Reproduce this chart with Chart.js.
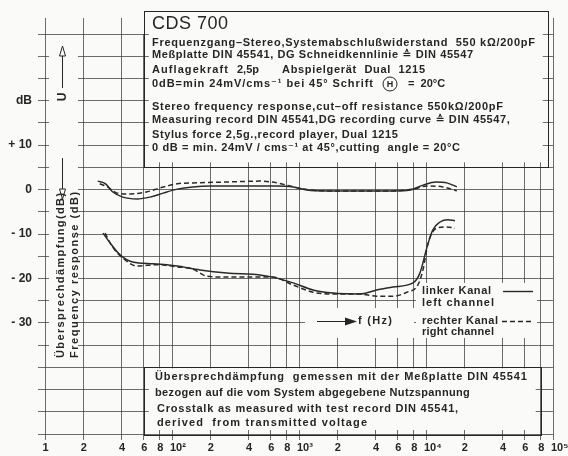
<!DOCTYPE html>
<html>
<head>
<meta charset="utf-8">
<title>CDS 700 Frequenzgang</title>
<script src="https://cdn.jsdelivr.net/npm/chart.js"></script>
<style>
  html, body { margin: 0; padding: 0; background: #fafaf8; }
  #chart { display: block; }
</style>
</head>
<body>
<canvas id="chart" width="568" height="456"></canvas>
<script>
// Frequenzgang, linker Kanal (Hz / dB)
var frLeftHz = [26, 30, 34, 41, 53, 67, 85, 110, 146, 200, 360, 670, 900, 1160, 1670, 3000, 5500, 7500, 9500, 12000, 14600, 17500];
var frLeftDb = [1.9, 1.3, -0.5, -1.7, -2.1, -1.7, -0.8, 0.1, 0.6, 0.8, 0.8, 0.8, 0.6, -0.1, -0.3, -0.3, -0.3, -0.1, 1.0, 1.7, 1.5, 0.6];

// Frequenzgang, rechter Kanal
var frRightHz = [27, 31, 37, 47, 64, 81, 110, 146, 270, 490, 670, 850, 1080, 1670, 3000, 5500, 7900, 10200, 13600, 17500];
var frRightDb = [1.3, 0.6, -0.8, -1.0, -0.5, 0.4, 1.3, 1.5, 1.7, 1.9, 1.5, 0.8, 0.1, -0.3, -0.3, -0.3, 0.1, 0.8, 0.6, -0.3];

// Übersprechdämpfung, linker Kanal
var xtLeftHz = [28.6, 32.5, 39, 49, 71, 110, 166, 270, 490, 620, 900, 1290, 1860, 3000, 4100, 5500, 7900, 8950, 10200, 11300, 12900, 14900, 16900];
var xtLeftDb = [-9.8, -12.0, -14.7, -16.3, -16.7, -17.2, -18.1, -18.8, -19.2, -19.7, -21.0, -22.6, -23.3, -23.5, -22.6, -21.9, -21.0, -18.8, -12.9, -9.1, -7.3, -6.8, -7.0];

// Übersprechdämpfung, rechter Kanal
var xtRightHz = [29.7, 34, 41, 53, 76, 110, 146, 188, 270, 490, 620, 900, 1290, 1860, 3000, 4100, 5500, 7070, 8620, 9460, 10400, 12100, 14600, 16900];
var xtRightDb = [-9.8, -12.9, -15.4, -17.2, -16.9, -17.4, -17.9, -19.5, -19.7, -19.7, -19.7, -21.5, -23.1, -23.5, -23.5, -24.0, -24.0, -23.1, -21.5, -18.1, -12.0, -8.7, -8.4, -8.7];

// Achsteilung
var freqTicks = [10, 20, 40, 60, 80, 100, 200, 400, 600, 800, 1000, 2000, 4000, 6000, 8000, 10000, 20000, 40000, 60000, 80000, 100000];
var freqLabels = ['1', '2', '4', '6', '8', '10²', '2', '4', '6', '8', '10³', '2', '4', '6', '8', '10⁴', '2', '4', '6', '8', '10⁵'];
var levelTicks = [-55, -50, -45, -40, -35, -30, -25, -20, -15, -10, -5, 0, 5, 10, 15, 20, 25, 30, 35];
var levelLabels = ['', '', '', '', '', '- 30', '', '- 20', '', '- 10', '', '0', '', '+ 10', '', 'dB', '', '', ''];

var paper = '#fafaf8';
var ink = '#262626';
var gridColor = 'rgba(60, 60, 60, 0.75)';
var sans = '"Liberation Sans", Arial, "DejaVu Sans", sans-serif';

function points(xs, ys) {
    return xs.map(function (v, i) { return { x: v, y: ys[i] }; });
}

// text brought to a set width: wider by letter spacing, narrower by squeezing
function fitText(ctx, str, x, y, w) {
    var m = ctx.measureText(str).width;
    ctx.save();
    ctx.translate(x, y);
    if (w > m && 'letterSpacing' in ctx) {
        ctx.letterSpacing = ((w - m) / Math.max(str.length - 1, 1)).toFixed(2) + 'px';
    } else {
        ctx.scale(w / m, 1);
    }
    ctx.fillText(str, 0, 0);
    ctx.restore();
}

function line(ctx, x1, y1, x2, y2) {
    ctx.beginPath();
    ctx.moveTo(x1, y1);
    ctx.lineTo(x2, y2);
    ctx.stroke();
}

// white panel over the grid; the grid stays visible for a few px inside the frame
function panel(ctx, l, t, r, b, frame) {
    ctx.fillStyle = paper;
    if (frame) {
        ctx.fillRect(l + 5, t + 1, r - l - 10, b - t - 6);
        ctx.strokeStyle = ink;
        ctx.lineWidth = 1;
        ctx.strokeRect(Math.round(l) + 0.5, Math.round(t) + 0.5, Math.round(r - l), Math.round(b - t));
    } else {
        ctx.fillRect(l, t, r - l, b - t);
    }
}

function arrowHead(ctx, x, tipY, dir) {
    ctx.beginPath();
    ctx.moveTo(x, tipY);
    ctx.lineTo(x - 3, tipY - dir * 10);
    ctx.lineTo(x + 3, tipY - dir * 10);
    ctx.closePath();
    ctx.stroke();
}

var paperPlugin = {
    id: 'paper',
    beforeDraw: function (chart) {
        var ctx = chart.ctx;
        ctx.save();
        ctx.fillStyle = paper;
        ctx.fillRect(0, 0, chart.width, chart.height);
        ctx.restore();
    },
    beforeDatasetsDraw: function (chart) {
        var ctx = chart.ctx, xs = chart.scales.x, ys = chart.scales.y, area = chart.chartArea;
        ctx.save();

        // vertical lines run on above the top edge
        ctx.strokeStyle = gridColor;
        ctx.lineWidth = 1;
        freqTicks.forEach(function (v) {
            var px = Math.round(xs.getPixelForValue(v)) + 0.5;
            line(ctx, px, area.top - 16, px, area.top);
        });

        // frequency labels; the powers of ten start at their line
        ctx.fillStyle = ink;
        ctx.font = 'bold 11px ' + sans;
        ctx.textBaseline = 'middle';
        freqTicks.forEach(function (v, i) {
            var px = xs.getPixelForValue(v);
            var s = freqLabels[i];
            if (s.length > 1) {
                ctx.textAlign = 'left';
                ctx.fillText(s, px - 2, area.bottom + 14);
            } else {
                ctx.textAlign = 'center';
                ctx.fillText(s, px + 0.5, area.bottom + 14);
            }
        });

        // left strip with the axis captions
        panel(ctx, area.left + 4, 40, area.left + 33, 362, false);
        // caption panels
        panel(ctx, xs.getPixelForValue(60), 11, xs.getPixelForValue(91000), ys.getPixelForValue(5), true);
        panel(ctx, xs.getPixelForValue(60), ys.getPixelForValue(-40), xs.getPixelForValue(80000), ys.getPixelForValue(-55) + 1, true);
        panel(ctx, 305, 308, 414, 338, false);
        panel(ctx, 416, 283, 537, 338, false);

        ctx.fillStyle = ink;
        ctx.strokeStyle = ink;
        ctx.textBaseline = 'middle';
        ctx.textAlign = 'left';

        // header block
        ctx.font = '18px ' + sans;
        fitText(ctx, 'CDS 700', 152, 24, 76);
        ctx.font = 'bold 11px ' + sans;
        fitText(ctx, 'Frequenzgang\u2013Stereo,Systemabschlußwiderstand  550 kΩ/200pF', 152, 43, 383);
        fitText(ctx, 'Meßplatte DIN 45541, DG Schneidkennlinie ≙ DIN 45547', 152, 55, 321);
        fitText(ctx, 'Auflagekraft', 152, 70, 76);
        ctx.fillText('2,5p', 237, 70);
        fitText(ctx, 'Abspielgerät  Dual  1215', 282, 70, 143);
        fitText(ctx, '0dB=min 24mV/cms⁻¹ bei 45° Schrift', 152, 84, 221);
        ctx.lineWidth = 1;
        ctx.beginPath();
        ctx.arc(390, 84, 7, 0, Math.PI * 2);
        ctx.stroke();
        ctx.textAlign = 'center';
        ctx.font = 'bold 9px ' + sans;
        ctx.fillText('H', 390, 84.5);
        ctx.textAlign = 'left';
        ctx.font = 'bold 11px ' + sans;
        ctx.fillText('=  20°C', 408, 84);
        fitText(ctx, 'Stereo frequency response,cut\u2013off resistance 550kΩ/200pF', 152, 107, 351);
        fitText(ctx, 'Measuring record DIN 45541,DG recording curve ≙ DIN 45547,', 152, 120, 358);
        fitText(ctx, 'Stylus force 2,5g.,record player, Dual 1215', 152, 135, 246);
        fitText(ctx, '0 dB = min. 24mV / cms⁻¹ at 45°,cutting  angle = 20°C', 152, 148, 308);

        // crosstalk note
        fitText(ctx, 'Übersprechdämpfung  gemessen mit der Meßplatte DIN 45541', 155, 377, 372);
        fitText(ctx, 'bezogen auf die vom System abgegebene Nutzspannung', 155, 393, 315);
        fitText(ctx, 'Crosstalk as measured with test record DIN 45541,', 157, 409, 301);
        fitText(ctx, 'derived  from transmitted voltage', 157, 423, 210);

        // legend
        fitText(ctx, 'linker Kanal', 422, 291, 69);
        fitText(ctx, 'left channel', 422, 303, 72);
        fitText(ctx, 'rechter Kanal', 422, 321, 76);
        fitText(ctx, 'right channel', 422, 332, 72);
        ctx.lineWidth = 1.4;
        line(ctx, 503, 291.5, 533, 291.5);
        ctx.setLineDash([5, 3]);
        line(ctx, 502, 321.5, 532, 321.5);
        ctx.setLineDash([]);

        // frequency arrow
        ctx.lineWidth = 1;
        line(ctx, 317, 321.5, 347, 321.5);
        ctx.beginPath();
        ctx.moveTo(357, 321.5);
        ctx.lineTo(345, 317.5);
        ctx.lineTo(345, 325.5);
        ctx.closePath();
        ctx.fill();
        fitText(ctx, 'f (Hz)', 358, 321, 34);

        // level arrows and rotated captions
        var ax = 62.5;
        line(ctx, ax, 56, ax, 88);
        arrowHead(ctx, ax, 46, -1);
        line(ctx, ax, 158, ax, 189);
        arrowHead(ctx, ax, 199, 1);
        ctx.save();
        ctx.translate(ax, 97);
        ctx.rotate(-Math.PI / 2);
        ctx.textAlign = 'center';
        ctx.font = 'bold 12px ' + sans;
        ctx.fillText('U', 0, 0);
        ctx.restore();

        ctx.font = 'bold 11px ' + sans;
        ctx.save();
        ctx.translate(61, 358);
        ctx.rotate(-Math.PI / 2);
        fitText(ctx, 'Übersprechdämpfung(dB)', 0, 0, 165);
        ctx.restore();
        ctx.save();
        ctx.translate(75, 358);
        ctx.rotate(-Math.PI / 2);
        fitText(ctx, 'Frequency response (dB)', 0, 0, 166);
        ctx.restore();

        ctx.restore();
    }
};

function series(xs, ys, dashed) {
    return {
        data: points(xs, ys),
        showLine: true,
        borderColor: '#2a2a2a',
        borderWidth: 1.5,
        borderDash: dashed ? [5, 3] : [],
        pointRadius: 0,
        cubicInterpolationMode: 'monotone'
    };
}

var ctx = document.getElementById('chart').getContext('2d');
new Chart(ctx, {
    type: 'scatter',
    data: {
        datasets: [
            series(frLeftHz, frLeftDb, false),
            series(frRightHz, frRightDb, true),
            series(xtLeftHz, xtLeftDb, false),
            series(xtRightHz, xtRightDb, true)
        ]
    },
    options: {
        responsive: false,
        animation: false,
        layout: { padding: { top: 34, right: 15, left: 0, bottom: 0 } },
        plugins: {
            legend: { display: false },
            tooltip: { enabled: false }
        },
        scales: {
            x: {
                type: 'logarithmic',
                min: 10,
                max: 100000,
                afterBuildTicks: function (axis) {
                    axis.ticks = freqTicks.map(function (v) { return { value: v }; });
                },
                afterFit: function (axis) { axis.height = 22; },
                ticks: { display: false, autoSkip: false },
                grid: { color: gridColor, lineWidth: 1, tickLength: 6, tickColor: gridColor },
                border: { display: false }
            },
            y: {
                min: -55,
                max: 35,
                afterBuildTicks: function (axis) {
                    axis.ticks = levelTicks.map(function (v) { return { value: v }; });
                },
                afterFit: function (axis) { axis.width = 45; },
                ticks: {
                    autoSkip: false,
                    padding: 6,
                    color: ink,
                    font: { family: sans, size: 12, weight: 'bold' },
                    callback: function (v, i) { return levelLabels[i]; }
                },
                grid: { color: gridColor, lineWidth: 1, tickLength: 7, tickColor: gridColor },
                border: { display: false }
            }
        }
    },
    plugins: [paperPlugin]
});
</script>
</body>
</html>
